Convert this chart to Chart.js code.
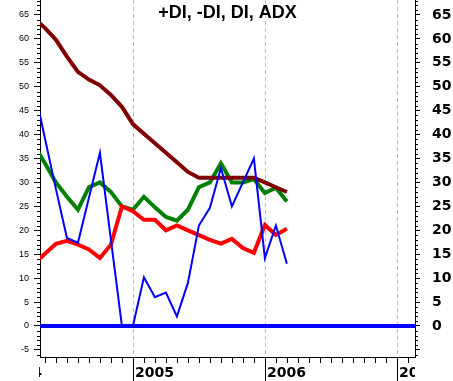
<!DOCTYPE html>
<html>
<head>
<meta charset="utf-8">
<script src="https://cdn.jsdelivr.net/npm/chart.js@4.4.0/dist/chart.umd.min.js"></script>
<style>
  body { margin: 0; background: #fff; }
</style>
</head>
<body>
<canvas id="diChart" width="453" height="381"></canvas>
<script>
// months counted from Jan 2005 (0 = Jan 2005, 12 = Jan 2006)
var months  = [-9, -8, -7, -6, -5, -4, -3, -2, -1, 0, 1, 2, 3, 4, 5, 6, 7, 8, 9, 10, 11, 12, 13, 14];
var adx     = [64.3, 62.3, 59.8, 56.3, 53.1, 51.5, 50.3, 48.3, 45.8, 42.2, 40.2, 38.2, 36.2, 34.2, 32.2, 31, 31, 31, 31, 31, 31, 30, 29, 28];
var di      = [37.8, 34, 30, 27, 24.3, 29, 30, 28, 25, 24.3, 27, 24.8, 22.8, 22, 24.3, 29, 30, 34, 30, 30, 30.7, 27.8, 28.9, 26];
var minusDi = [13, 15.1, 17.2, 17.8, 17, 16, 14.2, 17, 25, 24, 22.2, 22.2, 20, 21, 20, 19, 18, 17.2, 18.2, 16.3, 15.3, 21.1, 19, 20.3];
var plusDi  = [50, 39.2, 28.6, 18.4, 17.4, 26.8, 36.2, 18, 0, 0, 10.2, 6, 7, 2, 9, 21, 24.7, 33, 25, 30, 35, 14.2, 21, 13];
var zeroMonths = [-9, 26];
var zeroValues = [0, 0];

var yearMonths = [-12, 0, 12, 24];
var yearLabels = ['2004', '2005', '2006', '2007'];

var xMin = -8.45, xMax = 25.65;
var yMin = -6.48, yMax = 68.13;

function pts(xs, ys) {
    return xs.map(function (x, i) { return { x: x, y: ys[i] }; });
}

var axisDecor = {
    id: 'axisDecor',
    beforeDatasetsDraw: function (chart) {
        var ctx = chart.ctx, area = chart.chartArea, xs = chart.scales.x;
        ctx.save();
        ctx.strokeStyle = '#bdbdbd';
        ctx.lineWidth = 1;
        ctx.setLineDash([4, 3]);
        yearMonths.forEach(function (m) {
            if (m < xMin || m > xMax) return;
            var px = Math.round(xs.getPixelForValue(m)) + 0.5;
            ctx.beginPath();
            ctx.moveTo(px, area.top);
            ctx.lineTo(px, area.bottom);
            ctx.stroke();
        });
        ctx.restore();
    },
    afterDraw: function (chart) {
        var ctx = chart.ctx, area = chart.chartArea, xs = chart.scales.x, ys = chart.scales.y;
        ctx.save();
        ctx.strokeStyle = '#000';
        ctx.lineWidth = 1;

        // minor ticks on both value axes
        for (var v = Math.ceil(yMin); v <= Math.floor(yMax); v++) {
            if (v % 5 === 0) continue;
            var py = Math.round(ys.getPixelForValue(v)) + 0.5;
            ctx.beginPath();
            ctx.moveTo(area.left - 3, py); ctx.lineTo(area.left, py);
            ctx.moveTo(area.right, py); ctx.lineTo(area.right + 3, py);
            ctx.stroke();
        }

        // month ticks and year ticks
        for (var m = Math.ceil(xMin); m <= Math.floor(xMax); m++) {
            var px = Math.round(xs.getPixelForValue(m)) + 0.5;
            var isYear = yearMonths.indexOf(m) >= 0;
            ctx.beginPath();
            ctx.moveTo(px, area.bottom);
            ctx.lineTo(px, isYear ? chart.height : area.bottom + 6);
            ctx.stroke();
        }

        // year labels, clipped to the plot width
        ctx.beginPath();
        ctx.rect(area.left - 1, area.bottom, area.right - area.left + 1, chart.height - area.bottom);
        ctx.clip();
        ctx.fillStyle = '#000';
        ctx.font = 'bold 14px "DejaVu Sans"';
        ctx.textAlign = 'left';
        ctx.textBaseline = 'alphabetic';
        yearMonths.forEach(function (m, i) {
            var px = Math.round(xs.getPixelForValue(m));
            ctx.fillText(yearLabels[i], px + 2, 377);
        });
        ctx.restore();

        // title
        ctx.save();
        ctx.fillStyle = '#000';
        ctx.font = 'bold 18px "Liberation Sans"';
        ctx.textAlign = 'center';
        ctx.textBaseline = 'middle';
        ctx.fillText('+DI, -DI, DI, ADX', (area.left + area.right) / 2, 13);
        ctx.restore();
    }
};

function noPad(s) {
    s.paddingTop = 0; s.paddingBottom = 0; s.paddingLeft = 0; s.paddingRight = 0;
}

var ctx = document.getElementById('diChart').getContext('2d');
var diChart = new Chart(ctx, {
    type: 'line',
    data: {
        datasets: [{
            label: '+DI',
            data: pts(months, plusDi),
            borderColor: '#0000ff',
            borderWidth: 2,
            order: 1
        }, {
            label: '-DI',
            data: pts(months, minusDi),
            borderColor: '#ff0000',
            borderWidth: 4,
            order: 2
        }, {
            label: 'ADX',
            data: pts(months, adx),
            borderColor: '#800000',
            borderWidth: 4,
            order: 3
        }, {
            label: 'DI',
            data: pts(months, di),
            borderColor: '#008000',
            borderWidth: 4,
            order: 4
        }, {
            label: 'zero',
            data: pts(zeroMonths, zeroValues),
            borderColor: '#0000ff',
            borderWidth: 4,
            order: 5
        }]
    },
    options: {
        responsive: false,
        animation: false,
        layout: { padding: 0 },
        elements: {
            point: { radius: 0, hoverRadius: 0 },
            line: { tension: 0, fill: false }
        },
        plugins: {
            legend: { display: false },
            tooltip: { enabled: false },
            title: { display: false }
        },
        scales: {
            x: {
                type: 'linear',
                min: xMin,
                max: xMax,
                position: 'bottom',
                ticks: { display: false },
                grid: { display: false },
                border: { color: '#000', width: 1 },
                afterFit: function (s) { s.height = 24; noPad(s); }
            },
            y: {
                position: 'left',
                min: yMin,
                max: yMax,
                ticks: {
                    stepSize: 5,
                    includeBounds: false,
                    color: '#000',
                    padding: 5,
                    font: { family: 'Liberation Sans', size: 9 }
                },
                grid: { drawOnChartArea: false, tickLength: 6, tickColor: '#000' },
                border: { color: '#000', width: 1 },
                afterFit: function (s) { s.width = 40; noPad(s); }
            },
            y2: {
                position: 'right',
                min: yMin,
                max: yMax,
                ticks: {
                    stepSize: 5,
                    includeBounds: false,
                    color: '#000',
                    padding: 12,
                    font: { family: 'DejaVu Sans', size: 14, weight: 'bold' },
                    callback: function (v) { return v < 0 ? '' : v; }
                },
                grid: { drawOnChartArea: false, tickLength: 5, tickColor: '#000' },
                border: { color: '#000', width: 1 },
                afterFit: function (s) { s.width = 38; noPad(s); }
            }
        }
    },
    plugins: [axisDecor]
});
</script>
</body>
</html>
